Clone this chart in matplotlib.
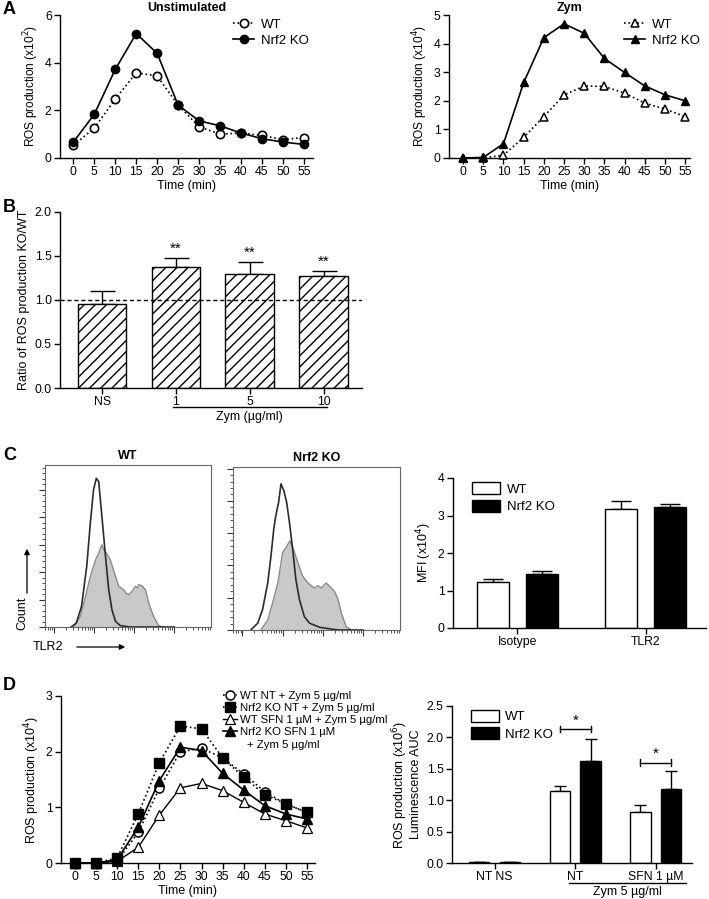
import numpy as np
import matplotlib
matplotlib.use("Agg")
from matplotlib import pyplot as plt
from matplotlib.ticker import LogLocator, NullFormatter, MultipleLocator

plt.rcParams['font.family'] = ['Liberation Sans', 'DejaVu Sans']
plt.rcParams['font.size'] = 8.6
plt.rcParams['axes.linewidth'] = 1.0
plt.rcParams['xtick.major.width'] = 1.0
plt.rcParams['ytick.major.width'] = 1.0
plt.rcParams['xtick.major.size'] = 4
plt.rcParams['ytick.major.size'] = 4
plt.rcParams['hatch.linewidth'] = 1.0

# ---- data ----
time_min = [0, 5, 10, 15, 20, 25, 30, 35, 40, 45, 50, 55]

# A unstimulated (x10^2)
unstim_wt = [0.53, 1.26, 2.47, 3.58, 3.44, 2.22, 1.31, 1.00, 1.05, 0.95, 0.77, 0.86]
unstim_ko = [0.67, 1.84, 3.72, 5.22, 4.39, 2.22, 1.56, 1.35, 1.05, 0.81, 0.67, 0.57]

# A zymosan (x10^4)
zym_wt = [0.0, 0.0, 0.10, 0.72, 1.45, 2.20, 2.52, 2.50, 2.27, 1.92, 1.71, 1.45]
zym_ko = [0.0, 0.02, 0.50, 2.64, 4.21, 4.69, 4.36, 3.48, 2.99, 2.52, 2.21, 2.00]

# B ratio KO/WT
ratio_labels = ['NS', '1', '5', '10']
ratio_mean = [0.95, 1.37, 1.29, 1.27]
ratio_err = [0.155, 0.11, 0.145, 0.065]

# C flow histograms (log10 fluorescence, count)
wt_iso_log = [2.42, 2.55, 2.68, 2.81, 2.90, 2.98, 3.05, 3.11, 3.19, 3.28, 3.36, 3.44, 3.53, 3.65, 3.90, 5.00]
wt_iso_cnt = [0, 2.9, 15.0, 44.1, 75.6, 99.8, 108.3, 105.9, 80.4, 51.4, 27.1, 12.6, 4.1, 1.0, 0, 0]
wt_tlr_log = [2.48, 2.65, 2.78, 2.90, 3.03, 3.11, 3.16, 3.19, 3.23, 3.28, 3.40, 3.53, 3.61, 3.73,
              3.80, 3.86, 3.94, 4.03, 4.08, 4.11, 4.19, 4.28, 4.36, 4.48, 4.61, 4.73]
wt_tlr_cnt = [0, 7.8, 22.3, 36.8, 48.9, 53.8, 58.0, 59.8, 56.5, 55.0, 48.9, 36.8, 29.6, 27.1,
              24.5, 23.5, 25.9, 29.6, 28.5, 30.8, 30.0, 27.1, 17.4, 7.8, 1.0, 0]
ko_iso_log = [2.21, 2.38, 2.50, 2.63, 2.71, 2.78, 2.83, 2.90, 2.96, 3.03, 3.10, 3.17, 3.25, 3.33,
              3.42, 3.54, 3.67, 3.92, 4.25, 4.42, 5.00]
ko_iso_cnt = [0, 4.2, 12.5, 29.1, 45.8, 62.5, 70.8, 79.1, 90.6, 86.4, 79.1, 66.6, 50.0, 31.2,
              18.7, 8.3, 4.2, 1.7, 0.4, 0, 0]
ko_tlr_log = [2.46, 2.63, 2.75, 2.88, 3.00, 3.08, 3.14, 3.18, 3.27, 3.38, 3.50, 3.63, 3.79, 3.88,
              3.96, 4.08, 4.17, 4.29, 4.38, 4.46, 4.58, 4.71]
ko_tlr_cnt = [0, 6.2, 16.7, 29.1, 47.9, 51.0, 53.5, 55.2, 50.0, 41.6, 33.3, 29.1, 26.0, 27.5,
              26.0, 29.1, 27.1, 23.9, 18.7, 10.4, 2.1, 0]

# C MFI (x10^4)
mfi_groups = ['Isotype', 'TLR2']
mfi_wt = [1.24, 3.17]
mfi_wt_err = [0.08, 0.23]
mfi_ko = [1.43, 3.23]
mfi_ko_err = [0.08, 0.08]

# D kinetics (x10^4)
d_wt_nt = [0, 0, 0.03, 0.55, 1.34, 2.00, 2.06, 1.89, 1.60, 1.28, 1.06, 0.91]
d_ko_nt = [0, 0, 0.09, 0.88, 1.80, 2.46, 2.41, 1.89, 1.54, 1.23, 1.06, 0.91]
d_wt_sfn = [0, 0, 0.03, 0.28, 0.86, 1.35, 1.43, 1.30, 1.09, 0.88, 0.76, 0.63]
d_ko_sfn = [0, 0, 0.06, 0.64, 1.48, 2.08, 2.02, 1.61, 1.31, 1.03, 0.88, 0.79]

# D AUC (x10^6)
auc_groups = ['NT NS', 'NT', 'SFN 1 µM']
auc_wt = [0.01, 1.14, 0.82]
auc_wt_err = [0, 0.08, 0.11]
auc_ko = [0.01, 1.63, 1.18]
auc_ko_err = [0, 0.35, 0.28]

W, H = 709, 899
fig = plt.figure(figsize=(W / 100, H / 100), dpi=100)


def add_ax(x0, y0, x1, y1):
    return fig.add_axes([x0 / W, 1 - y1 / H, (x1 - x0) / W, (y1 - y0) / H])


def prism(ax):
    ax.spines['top'].set_visible(False)
    ax.spines['right'].set_visible(False)
    ax.tick_params(direction='out', length=4, width=1, pad=2, labelsize=8.8)


def kinetics(ax, ylim, ystep):
    prism(ax)
    ax.set_xticks(time_min)
    ax.set_xlim(-3.2, 57.2)
    ax.set_ylim(0, ylim)
    ax.yaxis.set_major_locator(MultipleLocator(ystep))
    ax.set_xlabel('Time (min)', labelpad=1, fontsize=9)


# ---- A left ----
ax = add_ax(60, 15, 313, 158)
kinetics(ax, 6, 2)
ax.plot(time_min, unstim_wt, ':', color='k', lw=1.2, marker='o', ms=6,
        mfc='white', mec='k', mew=1.2, label='WT', clip_on=False, zorder=3)
ax.plot(time_min, unstim_ko, '-', color='k', lw=1.2, marker='o', ms=6,
        mfc='k', mec='k', label='Nrf2 KO', clip_on=False, zorder=3)
ax.set_ylabel('ROS production (x10$^2$)', labelpad=3)
ax.set_title('Unstimulated', fontweight='bold', fontsize=9, pad=3)
ax.legend(loc='upper right', bbox_to_anchor=(1.03, 1.06), frameon=False,
          handlelength=1.6, handletextpad=0.5, labelspacing=0.3, fontsize=9.5)

# ---- A right ----
ax = add_ax(449, 15, 690, 158)
kinetics(ax, 5, 1)
ax.set_xlim(-3.5, 56.2)
ax.plot(time_min, zym_wt, ':', color='k', lw=1.2, marker='^', ms=5.5,
        mfc='white', mec='k', mew=1.1, label='WT', clip_on=False, zorder=3)
ax.plot(time_min, zym_ko, '-', color='k', lw=1.2, marker='^', ms=5.5,
        mfc='k', mec='k', label='Nrf2 KO', clip_on=False, zorder=3)
ax.set_ylabel('ROS production (x10$^4$)', labelpad=3)
ax.set_title('Zym', fontweight='bold', fontsize=9, pad=3)
ax.legend(loc='upper right', bbox_to_anchor=(1.09, 1.06), frameon=False,
          handlelength=1.6, handletextpad=0.5, labelspacing=0.3, fontsize=9.5)

# ---- B ----
ax = add_ax(60, 212, 362, 388)
prism(ax)
xb = np.arange(len(ratio_labels))
ax.bar(xb, ratio_mean, width=0.66, color='white', edgecolor='k', hatch='///',
       linewidth=1.0, zorder=2)
ax.errorbar(xb, ratio_mean, yerr=[[0] * 4, ratio_err], fmt='none', ecolor='k',
            elinewidth=1.0, capsize=9, capthick=1.0, zorder=1)
for i in range(1, 4):
    ax.text(xb[i], ratio_mean[i] + ratio_err[i] + 0.02, '**', ha='center',
            va='bottom', fontsize=11)
ax.axhline(1.0, color='k', ls=(0, (3, 2)), lw=1.0, zorder=3)
ax.set_xlim(-0.57, 3.52)
ax.set_ylim(0, 2.0)
ax.yaxis.set_major_locator(MultipleLocator(0.5))
ax.yaxis.set_major_formatter(plt.FormatStrFormatter('%.1f'))
ax.set_xticks(xb)
ax.set_xticklabels(ratio_labels)
ax.set_ylabel('Ratio of ROS production KO/WT', labelpad=3, fontsize=9)
tr = ax.get_xaxis_transform()
ax.plot([0.96, 3.05], [-0.108, -0.108], color='k', lw=1.0, transform=tr, clip_on=False)
ax.text(2.0, -0.165, 'Zym (µg/ml)', transform=tr, ha='center', va='center', fontsize=9)

# ---- C histograms ----
def flow(ax, iso_log, iso_cnt, tlr_log, tlr_cnt, ymax, title):
    ax.fill_between(10 ** np.array(tlr_log), tlr_cnt, color='#c9c9c9', lw=0)
    ax.plot(10 ** np.array(tlr_log), tlr_cnt, color='#8a8a8a', lw=1.0)
    ax.plot(10 ** np.array(iso_log), iso_cnt, color='#2b2b2b', lw=1.2)
    ax.set_xscale('log')
    ax.set_xlim(10 ** 1.767, 10 ** 5.917)
    ax.set_ylim(0, ymax)
    ax.xaxis.set_major_locator(LogLocator(base=10, numticks=10))
    ax.xaxis.set_minor_locator(LogLocator(base=10, subs=np.arange(2, 10), numticks=20))
    ax.xaxis.set_major_formatter(NullFormatter())
    ax.xaxis.set_minor_formatter(NullFormatter())
    ax.yaxis.set_major_locator(MultipleLocator(20))
    ax.yaxis.set_minor_locator(MultipleLocator(4))
    ax.set_yticklabels([])
    ax.tick_params(which='major', direction='out', length=4, width=0.8, color='#333333')
    ax.tick_params(which='minor', direction='out', length=2, width=0.6, color='#333333')
    ax.tick_params(right=False, top=False)
    for s in ax.spines.values():
        s.set_color('#666666')
        s.set_linewidth(0.8)
    ax.set_title(title, fontweight='bold', fontsize=9, pad=4)


ax = add_ax(45, 465, 211, 627)
flow(ax, wt_iso_log, wt_iso_cnt, wt_tlr_log, wt_tlr_cnt, 118, 'WT')
ax = add_ax(233, 467, 400, 630)
flow(ax, ko_iso_log, ko_iso_cnt, ko_tlr_log, ko_tlr_cnt, 101, 'Nrf2 KO')

fig.text(22 / W, 1 - 613 / H, 'Count', rotation=90, ha='center', va='center', fontsize=9)
fig.add_artist(matplotlib.patches.FancyArrowPatch(
    (27 / W, 1 - 596 / H), (27 / W, 1 - 546 / H), transform=fig.transFigure,
    arrowstyle='-|>', mutation_scale=8, color='k', lw=0.9))
fig.text(33 / W, 1 - 647 / H, 'TLR2', ha='left', va='center', fontsize=9)
fig.add_artist(matplotlib.patches.FancyArrowPatch(
    (74 / W, 1 - 647 / H), (128 / W, 1 - 647 / H), transform=fig.transFigure,
    arrowstyle='-|>', mutation_scale=8, color='k', lw=0.9))


# ---- grouped bars (C right, D right) ----
def grouped(ax, wt, wt_err, ko, ko_err, labels, capsize):
    prism(ax)
    xg = np.arange(len(labels))
    off = 0.19
    ax.bar(xg - off, wt, width=0.25, color='white', edgecolor='k', lw=1.0,
           label='WT', zorder=2)
    ax.bar(xg + off, ko, width=0.25, color='k', edgecolor='k', lw=1.0,
           label='Nrf2 KO', zorder=2)
    ax.errorbar(xg - off, wt, yerr=[[0] * len(wt), wt_err], fmt='none', ecolor='k',
                elinewidth=1.0, capsize=capsize, zorder=1)
    ax.errorbar(xg + off, ko, yerr=[[0] * len(ko), ko_err], fmt='none', ecolor='k',
                elinewidth=1.0, capsize=capsize, zorder=1)
    ax.set_xticks(xg)
    ax.set_xticklabels(labels)
    ax.legend(loc='upper left', bbox_to_anchor=(0.03, 1.05), frameon=False,
              handlelength=2.1, handleheight=1.0, handletextpad=0.5,
              labelspacing=0.3, fontsize=9.5)
    return xg, off


ax = add_ax(453, 478, 706, 628)
grouped(ax, mfi_wt, mfi_wt_err, mfi_ko, mfi_ko_err, mfi_groups, 7)
ax.set_xlim(-0.5, 1.47)
ax.set_ylim(0, 4)
ax.yaxis.set_major_locator(MultipleLocator(1))
ax.set_ylabel('MFI (x10$^4$)', labelpad=3, fontsize=9)

# ---- D left ----
ax = add_ax(61, 696, 315, 863)
kinetics(ax, 3, 1)
ax.set_xlim(-3.3, 56.9)
ax.plot(time_min, d_wt_nt, ':', color='k', lw=1.2, marker='o', ms=6.5, mfc='white',
        mec='k', mew=1.1, label='WT NT + Zym 5 µg/ml', clip_on=False, zorder=3)
ax.plot(time_min, d_ko_nt, ':', color='k', lw=1.2, marker='s', ms=6.5, mfc='k',
        mec='k', label='Nrf2 KO NT + Zym 5 µg/ml', clip_on=False, zorder=3)
ax.plot(time_min, d_wt_sfn, '-', color='k', lw=1.0, marker='^', ms=6.5, mfc='white',
        mec='k', mew=0.9, label='WT SFN 1 µM + Zym 5 µg/ml', clip_on=False, zorder=3)
ax.plot(time_min, d_ko_sfn, '-', color='k', lw=1.2, marker='^', ms=6.5, mfc='k',
        mec='k', label='Nrf2 KO SFN 1 µM', clip_on=False, zorder=3)
ax.set_ylabel('ROS production (x10$^4$)', labelpad=3, fontsize=9)
leg = ax.legend(loc='upper left', bbox_to_anchor=(0.62, 1.06), frameon=False,
                handlelength=1.2, handletextpad=0.3, labelspacing=0.2, fontsize=8.2,
                borderaxespad=0)
# second line of the last legend entry, indented under its text
fig.canvas.draw()
last = leg.get_texts()[-1].get_window_extent()
inv = fig.transFigure.inverted()
lx, ly = inv.transform((last.x0, last.y0))
fig.text(lx + 7 / W, ly - 3 / H, '+ Zym 5 µg/ml', ha='left', va='top', fontsize=8.2)

# ---- D right ----
ax = add_ax(452, 706, 692, 863)
xg, off = grouped(ax, auc_wt, auc_wt_err, auc_ko, auc_ko_err, auc_groups, 4)
ax.set_xlim(-0.53, 2.45)
ax.set_ylim(0, 2.5)
ax.yaxis.set_major_locator(MultipleLocator(0.5))
ax.yaxis.set_major_formatter(plt.FormatStrFormatter('%.1f'))
ax.set_ylabel('ROS production (x10$^6$)\nLuminescence AUC', labelpad=3, linespacing=1.05,
              fontsize=9)
for i, yb in [(1, 2.13), (2, 1.60)]:
    x0, x1 = xg[i] - off, xg[i] + off
    ax.plot([x0, x1], [yb, yb], color='k', lw=1.0)
    ax.plot([x0, x0], [yb - 0.05, yb + 0.05], color='k', lw=1.0)
    ax.plot([x1, x1], [yb - 0.05, yb + 0.05], color='k', lw=1.0)
    ax.text(xg[i], yb + 0.02, '*', ha='center', va='bottom', fontsize=11)
tr = ax.get_xaxis_transform()
ax.plot([0.92, 2.38], [-0.127, -0.127], color='k', lw=1.0, transform=tr, clip_on=False)
ax.text(1.65, -0.185, 'Zym 5 µg/ml', transform=tr, ha='center', va='center', fontsize=9)

# panel letters
for lab, y in [('A', 10), ('B', 208), ('C', 455), ('D', 686)]:
    fig.text(3 / W, 1 - y / H, lab, fontsize=13, fontweight='bold', ha='left', va='center')

fig.savefig('out.png', dpi=100)
